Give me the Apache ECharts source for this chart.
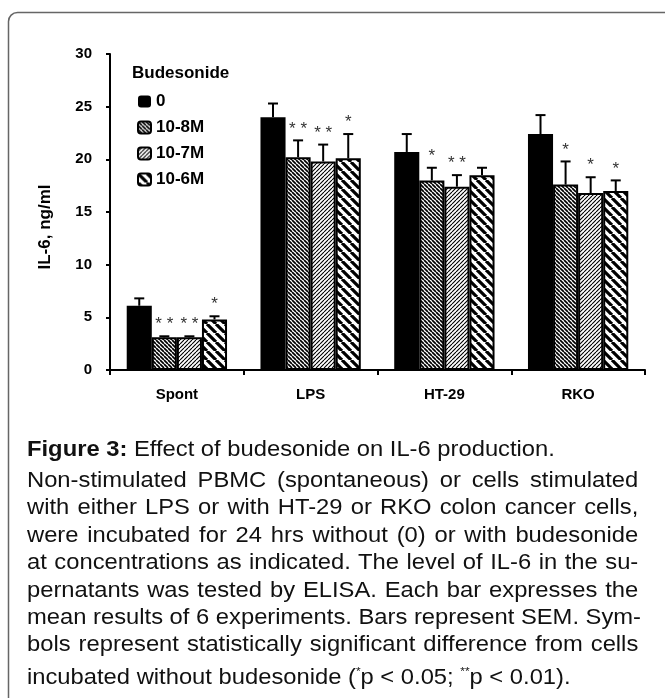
<!DOCTYPE html>
<html>
<head>
<meta charset="utf-8">
<script src="https://cdn.jsdelivr.net/npm/echarts@6/dist/echarts.min.js"></script>
<style>
  html, body { margin: 0; padding: 0; background: #fff; }
  #wrap { position: relative; width: 665px; height: 698px; overflow: hidden; }
  #chart { position: absolute; left: 0; top: 0; width: 665px; height: 698px; }
  #caption { position: absolute; left: 27px; top: 435px; width: 566px;
    transform: scaleX(1.08); transform-origin: 0 0;
    font-family: "Liberation Sans", Arial, sans-serif; font-size: 22px; color: #111; }
  #caption .t { line-height: 28px; margin-bottom: 3px; }
  #caption .l { line-height: 27.4px; text-align: justify; text-align-last: justify; white-space: nowrap; }
  #caption .last { text-align-last: left; }
  sup { font-size: 11px; vertical-align: 9px; }
</style>
</head>
<body>
<div id="wrap">
  <div id="chart"></div>
  <div id="caption">
    <div class="t"><b>Figure 3:</b> Effect of budesonide on IL-6 production.</div>
    <div class="l">Non-stimulated PBMC (spontaneous) or cells stimulated</div>
    <div class="l">with either LPS or with HT-29 or RKO colon cancer cells,</div>
    <div class="l">were incubated for 24 hrs without (0) or with budesonide</div>
    <div class="l">at concentrations as indicated. The level of IL-6 in the su-</div>
    <div class="l">pernatants was tested by ELISA. Each bar expresses the</div>
    <div class="l">mean results of 6 experiments. Bars represent SEM. Sym-</div>
    <div class="l">bols represent statistically significant difference from cells</div>
    <div class="l last">incubated without budesonide (<sup>*</sup>p &lt; 0.05; <sup>**</sup>p &lt; 0.01).</div>
  </div>
</div>
<script>
// data
const groups = ["Spont", "LPS", "HT-29", "RKO"];
const doses = ["0", "10-8M", "10-7M", "10-6M"];
const dose0 = [6.1, 24.0, 20.7, 22.4];
const dose8 = [3.1, 20.2, 18.0, 17.6];
const dose7 = [3.1, 19.8, 17.4, 16.8];
const dose6 = [4.8, 20.1, 18.5, 17.0];
// top of the SEM bars
const err0 = [6.8, 25.3, 22.4, 24.2];
const err8 = [3.2, 21.8, 19.2, 19.8];
const err7 = [3.2, 21.4, 18.5, 18.3];
const err6 = [5.1, 22.4, 19.2, 18.0];
const stars0 = ["", "", "", ""];
const stars8 = ["**", "**", "*", "*"];
const stars7 = ["**", "**", "**", "*"];
const stars6 = ["*", "*", "", "*"];

function hatch(step, lw, dir){
    const c = document.createElement("canvas");
    c.width = step; c.height = step;
    const g = c.getContext("2d");
    g.fillStyle = "#fff";
    g.fillRect(0, 0, step, step);
    g.strokeStyle = "#000";
    g.lineWidth = lw;
    g.beginPath();
    for (let o = -step; o <= step; o += step) {
        if (dir > 0) { g.moveTo(o, 0); g.lineTo(o + step, step); }
        else { g.moveTo(o + step, 0); g.lineTo(o, step); }
    }
    g.stroke();
    return {image: c, repeat: "repeat"};
}

const fills = ["#000", hatch(4, 1.7, 1), hatch(4, 1.1, -1), hatch(9, 3.2, 1)];
const values = [dose0, dose8, dose7, dose6];
const errs = [err0, err8, err7, err6];
const stars = [stars0, stars8, stars7, stars6];

const errData = [];
groups.forEach((g, i) => {
    for (let k = 0; k < 4; k++) errData.push([i, k, values[k][i], errs[k][i], stars[k][i]]);
});

const chart = echarts.init(document.getElementById("chart"));
const font = "Liberation Sans, Arial, sans-serif";

const series = doses.map((d, k) => ({
    name: d,
    type: "bar",
    data: values[k],
    barGap: "0%",
    barCategoryGap: "25%",
    itemStyle: {color: fills[k], borderColor: "#000", borderWidth: k === 0 ? 0 : 2}
}));

series.push({
    type: "custom",
    z: 5,
    data: errData,
    encode: {x: 0, y: 3},
    renderItem: function(params, api){
        const i = api.value(0), k = api.value(1);
        const band = api.size([1, 0])[0];
        const bw = band * 0.75 / 4;
        const base = api.coord([i, 0]);
        const x = base[0] + (k - 1.5) * bw;
        const yTop = api.coord([i, api.value(2)])[1];
        const yErr = api.coord([i, api.value(3)])[1];
        const s = errData[params.dataIndex][4];
        const kids = [
            {type: "line", shape: {x1: x, y1: yTop, x2: x, y2: yErr}, style: {stroke: "#000", lineWidth: 2}},
            {type: "line", shape: {x1: x - 5, y1: yErr, x2: x + 5, y2: yErr}, style: {stroke: "#000", lineWidth: 2}}
        ];
        if (s) kids.push({type: "text", x: x, y: yErr - 3,
            style: {text: s.split("").join(" "), fill: "#333", font: "17px " + font, align: "center", verticalAlign: "bottom"}});
        return {type: "group", children: kids};
    }
});

chart.setOption({
    animation: false,
    grid: {left: 110, right: 20, top: 54, bottom: 328},
    legend: {
        orient: "vertical", left: 132, top: 88,
        data: doses, icon: "roundRect",
        itemWidth: 13, itemHeight: 12, itemGap: 9,
        textStyle: {fontFamily: font, fontWeight: "bold", fontSize: 17, color: "#000"}
    },
    graphic: [
        {type: "text", left: 132, top: 65, style: {text: "Budesonide", font: "bold 17px " + font, fill: "#000"}},
        {type: "text", x: 45, y: 227, rotation: Math.PI / 2,
            style: {text: "IL-6, ng/ml", font: "bold 17px " + font, fill: "#000", align: "center", verticalAlign: "middle"}},
        {type: "rect", shape: {x: 8.5, y: 12.5, width: 700, height: 720, r: 9}, style: {fill: null, stroke: "#666", lineWidth: 1.5}}
    ],
    xAxis: {
        type: "category",
        data: groups,
        axisLine: {lineStyle: {color: "#000", width: 2}},
        axisTick: {show: true, length: 5, lineStyle: {color: "#000", width: 2}},
        axisLabel: {fontFamily: font, fontWeight: "bold", fontSize: 15, color: "#000", margin: 17}
    },
    yAxis: {
        type: "value", min: 0, max: 30, interval: 5,
        splitLine: {show: false},
        axisLine: {show: true, lineStyle: {color: "#000", width: 2}},
        axisTick: {show: true, length: 4, lineStyle: {color: "#000", width: 2}},
        axisLabel: {fontFamily: font, fontWeight: "bold", fontSize: 15, color: "#000", margin: 18}
    },
    series: series
});
</script>
</body>
</html>
